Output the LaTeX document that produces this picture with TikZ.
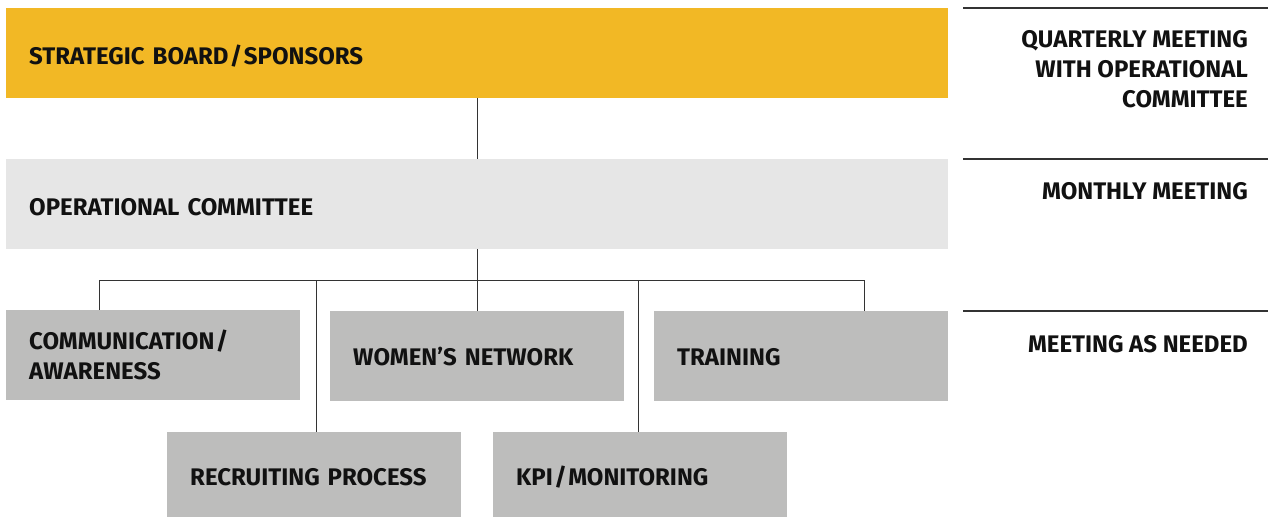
\documentclass[tikz,border=0pt]{standalone}
\usepackage{fontspec}
\setmainfont{Fira Sans}
\definecolor{sbyellow}{HTML}{F2B825}
\definecolor{oclight}{HTML}{E6E6E6}
\definecolor{subgray}{HTML}{BDBDBC}
\definecolor{linegray}{HTML}{333333}
\definecolor{txt}{HTML}{111111}
\newcommand{\slsh}{\kern1.5pt/\kern1.5pt}
\begin{document}
\begin{tikzpicture}[x=1pt,y=-1pt,
  lbl/.style={font=\fontsize{24}{30}\selectfont\bfseries, text=txt},
  bigbox/.style={lbl, anchor=north west, inner xsep=23pt, inner ysep=0pt,
    text width=896pt, minimum height=90pt, align=left,
    text height=22pt, text depth=0pt},
  subbox/.style={lbl, anchor=north west, inner xsep=23pt, inner ysep=0pt,
    text width=248pt, minimum height=90pt, align=left, fill=subgray},
  onerow/.style={text height=18.5pt, text depth=0pt},
  lowbox/.style={subbox, minimum height=85pt, text height=22pt, text depth=0pt},
  conn/.style={draw=linegray, line width=1pt},
  rule/.style={draw=linegray, line width=1.2pt},
  note/.style={lbl, anchor=north east, align=right, inner sep=0pt}]
\useasboundingbox (0,0) rectangle (1268,517);
% main boxes
\node[bigbox, fill=sbyellow] (sb) at (6,8) {STRATEGIC BOARD\slsh SPONSORS};
\node[bigbox, fill=oclight] (oc) at (6,159) {OPERATIONAL COMMITTEE};
% sub boxes
\node[subbox] (cm) at (6,310) {COMMUNICATION\slsh\\AWARENESS};
\node[subbox, onerow] (wn) at (330,311) {WOMEN’S NETWORK};
\node[subbox, onerow] (tr) at (654,311) {TRAINING};
\node[lowbox] (rp) at (167,432) {RECRUITING PROCESS};
\node[lowbox] (kpi) at (493,432) {KPI\slsh MONITORING};
% connectors
\coordinate (busL) at (99,280);
\coordinate (busA) at (316,280);
\coordinate (busB) at (638,280);
\coordinate (busR) at (864,280);
\draw[conn] (sb.south) -- (oc.north);
\draw[conn] (oc.south) -- (wn.north);
\draw[conn] (busL) -- (busR);
\draw[conn] (busL) -- (busL |- cm.north);
\draw[conn] (busA) -- (busA |- rp.north);
\draw[conn] (busB) -- (busB |- kpi.north);
\draw[conn] (busR) -- (busR |- tr.north);
% right column rules and notes
\coordinate (r1a) at (963,8);   \coordinate (r1b) at (1268,8);
\coordinate (r2a) at (963,159); \coordinate (r2b) at (1268,159);
\coordinate (r3a) at (963,311); \coordinate (r3b) at (1268,311);
\draw[rule] (r1a) -- (r1b);
\draw[rule] (r2a) -- (r2b);
\draw[rule] (r3a) -- (r3b);
\node[note] (n1) at (1248,30) {QUARTERLY MEETING\\WITH OPERATIONAL\\COMMITTEE};
\node[note] (n2) at (1248,182) {MONTHLY MEETING};
\node[note] (n3) at (1248,335) {MEETING AS NEEDED};
\end{tikzpicture}
\end{document}
